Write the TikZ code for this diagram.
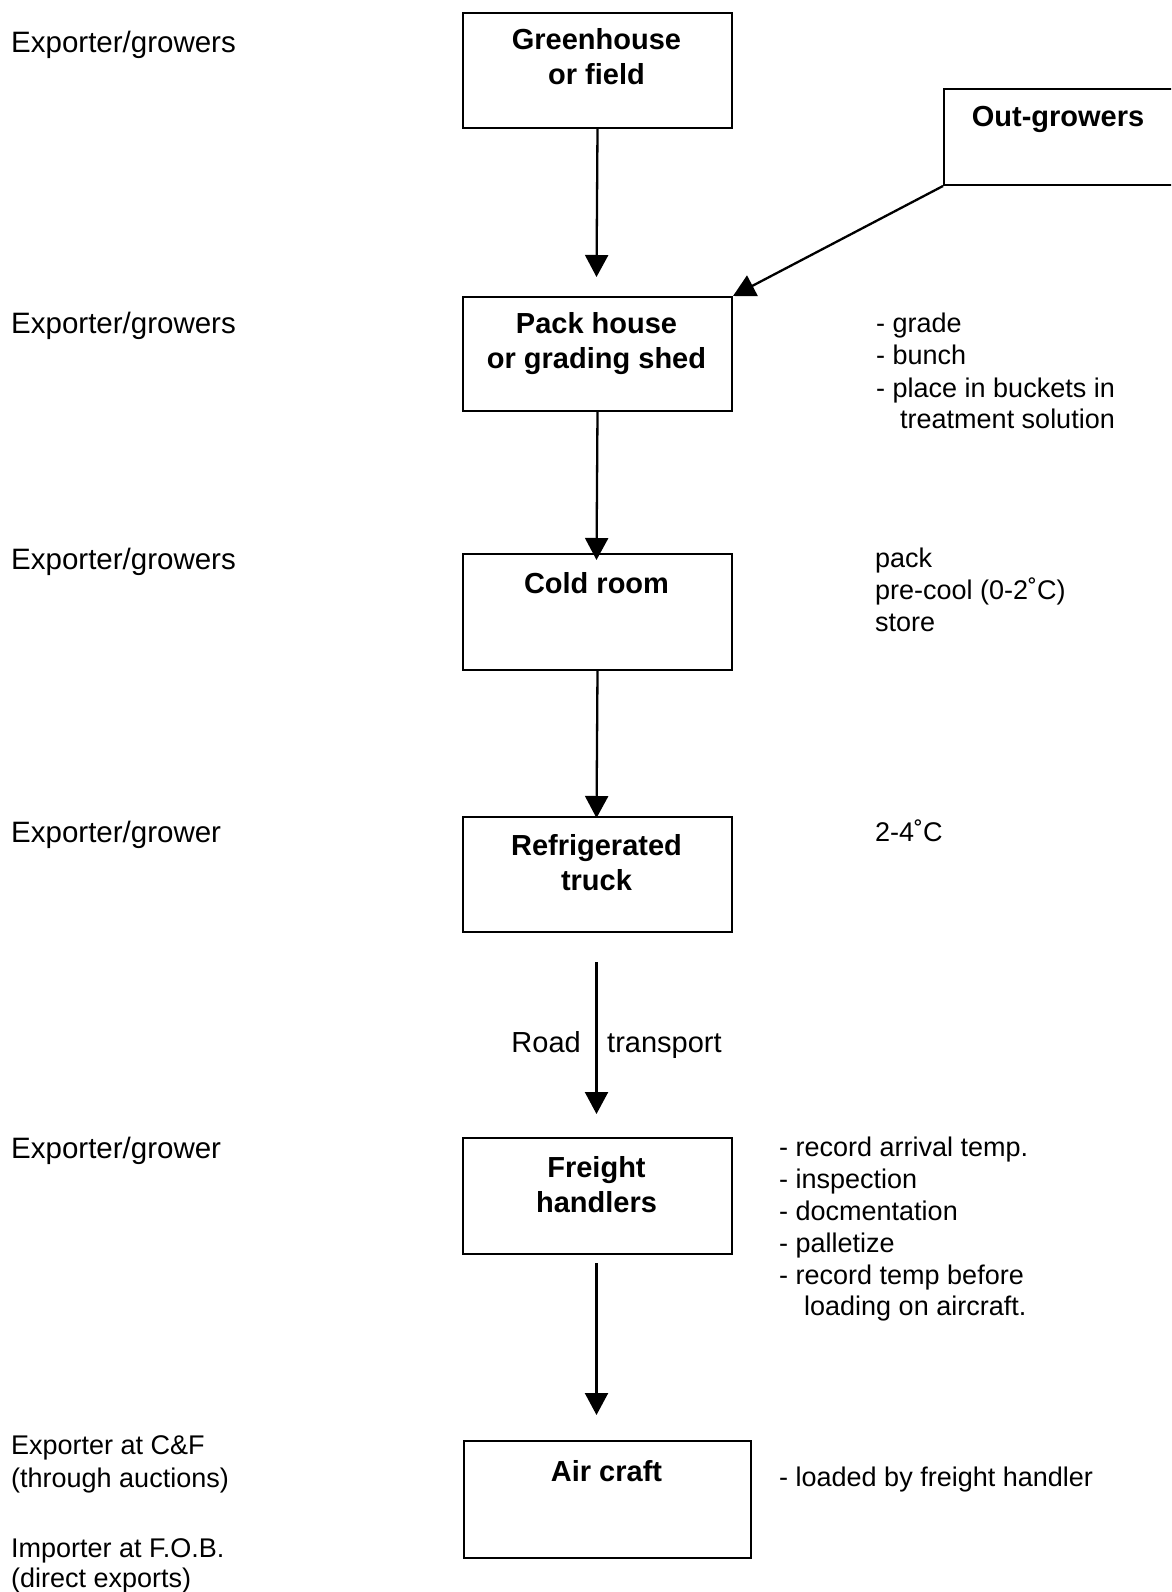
\documentclass[tikz,border=0pt]{standalone}
\usepackage{fontspec}
\setmainfont{Liberation Sans}
\usetikzlibrary{arrows.meta}
\begin{document}
\begin{tikzpicture}[x=1pt,y=-1pt,
  box/.style={draw, line width=2pt, inner sep=0pt, anchor=north west},
  arr/.style={line width=2.3pt, -{Triangle[length=22pt,width=23pt]}},
  lbl/.style={anchor=base west, inner sep=0pt, font=\fontsize{29.5}{34}\selectfont},
  lbls/.style={anchor=base west, inner sep=0pt, font=\fontsize{27}{32}\selectfont},
  note/.style={anchor=base west, inner sep=0pt, font=\fontsize{27}{32}\selectfont},
  btxt/.style={anchor=base, inner sep=0pt, font=\fontsize{29}{34}\selectfont\bfseries},
]
\useasboundingbox (0,0) rectangle (1171,1592);
\clip (0,0) rectangle (1171,1592);

% boxes
\node[box, minimum width=269pt, minimum height=115pt] (gh) at (462,12) {};
\node[box, minimum width=232pt, minimum height=96pt] (og) at (943,88) {};
\node[box, minimum width=269pt, minimum height=114pt] (ph) at (462,296) {};
\node[box, minimum width=269pt, minimum height=116pt] (cr) at (462,553) {};
\node[box, minimum width=269pt, minimum height=115pt] (rt) at (462,816) {};
\node[box, minimum width=269pt, minimum height=116pt] (fh) at (462,1137) {};
\node[box, minimum width=287pt, minimum height=117pt] (ac) at (463,1440) {};

% box texts
\node[btxt] (ghA) at (596.5,50) {Greenhouse};
\node[btxt] (ghB) at (596.5,85) {or field};
\node[btxt] (ogA) at (1058,127) {Out-growers};
\node[btxt] (phA) at (596.5,333) {Pack house};
\node[btxt] (phB) at (596.5,368) {or grading shed};
\node[btxt] (crA) at (596.5,593) {Cold room};
\node[btxt] (rtA) at (596.5,855) {Refrigerated};
\node[btxt] (rtB) at (596.5,890) {truck};
\node[btxt] (fhA) at (596.5,1177) {Freight};
\node[btxt] (fhB) at (596.5,1212) {handlers};
\node[btxt] (acA) at (606.5,1481) {Air craft};

% arrows
\coordinate (t1) at (596.5,277);
\coordinate (t2) at (596.5,560);
\coordinate (t3) at (596.5,818);
\coordinate (r1) at (596.5,962);
\coordinate (r2) at (596.5,1114);
\coordinate (f1) at (596.5,1263);
\coordinate (f2) at (596.5,1415);
\draw[arr] (gh.south) -- (t1);
\draw[arr] (ph.south) -- (t2);
\draw[arr] (cr.south) -- (t3);
\draw[arr] (r1) -- (r2);
\draw[arr] (f1) -- (f2);
\draw[arr] (og.south west) -- (ph.north east);

\node[anchor=base east, inner sep=0pt, font=\fontsize{29}{34}\selectfont] (road) at (581,1052) {Road};
\node[anchor=base west, inner sep=0pt, font=\fontsize{29}{34}\selectfont] (transp) at (607,1052) {transport};

% left labels
\node[lbl] (L1) at (11,53) {Exporter/growers};
\node[lbl] (L2) at (11,333) {Exporter/growers};
\node[lbl] (L3) at (11,569) {Exporter/growers};
\node[lbl] (L4) at (11,842) {Exporter/grower};
\node[lbl] (L5) at (11,1158) {Exporter/grower};
\node[lbls] (L6) at (11,1454) {Exporter at C\&F};
\node[lbls] (L7) at (11,1487) {(through auctions)};
\node[lbls] (L8) at (11,1557) {Importer at F.O.B.};
\node[lbls] (L9) at (11,1587) {(direct exports)};

% right notes
\node[note] (N1) at (876,332) {- grade};
\node[note] (N2) at (876,364) {- bunch};
\node[note] (N3) at (876,397) {- place in buckets in};
\node[note] (N4) at (900,428) {treatment solution};
\node[note] (N5) at (875,567) {pack};
\node[note] (N6) at (875,599) {pre-cool (0-2˚C)};
\node[note] (N7) at (875,631) {store};
\node[note] (N8) at (875,841) {2-4˚C};
\node[note] (N9) at (779,1156) {- record arrival temp.};
\node[note] (N10) at (779,1188) {- inspection};
\node[note] (N11) at (779,1220) {- docmentation};
\node[note] (N12) at (779,1252) {- palletize};
\node[note] (N13) at (779,1284) {- record temp before};
\node[note] (N14) at (804,1315) {loading on aircraft.};
\node[note] (N15) at (779,1486) {- loaded by freight handler};
\end{tikzpicture}
\end{document}
